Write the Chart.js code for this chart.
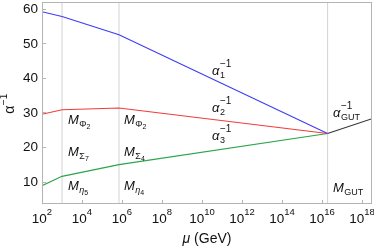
<!DOCTYPE html>
<html>
<head>
<meta charset="utf-8">
<script src="https://cdn.jsdelivr.net/npm/chart.js@4"></script>
<style>
    html, body { margin: 0; padding: 0; background: #fff; }
    #wrap { width: 374px; height: 249px; }
</style>
</head>
<body>
<div id="wrap"><canvas id="runningChart"></canvas></div>
<script>
    // log10(mu / GeV) at the thresholds used by the running
    const muLog = [2, 3, 5.85, 16.28];
    const alpha1Inv = [59.2, 57.8, 52.5, 23.9];
    const alpha2Inv = [29.5, 30.8, 31.3, 23.9];
    const alpha3Inv = [8.8, 11.5, 14.9, 23.9];

    // unified coupling above M_GUT
    const gutLog = [16.28, 18.5];
    const alphaGutInv = [23.9, 28.2];

    // vertical threshold lines
    const thresholdLog = [3, 5.85, 16.28];

    const xTicks = [2, 4, 6, 8, 10, 12, 14, 16, 18];
    const yTicks = [10, 20, 30, 40, 50, 60];

    const X_MIN = 2, X_MAX = 18.5, Y_MIN = 3.5, Y_MAX = 62;

    const FONT = '"Liberation Sans", Arial, sans-serif';
    const FRAME = '#b4b4b4';

    function pts(xs, ys) {
        return xs.map((x, i) => ({ x: x, y: ys[i] }));
    }

    // label text in data coords: base, subscript, sub-subscript, superscript
    const labels = [
        { x: 10.5, y: 40.8, base: 'α', sub: '1', sup: '−1' },
        { x: 10.5, y: 30.0, base: 'α', sub: '2', sup: '−1' },
        { x: 10.5, y: 21.9, base: 'α', sub: '3', sup: '−1' },
        { x: 16.55, y: 28.7, base: 'α', sub: 'GUT', sup: '−1' },
        { x: 3.3, y: 26.8, base: 'M', sub: 'Φ', sub2: '2' },
        { x: 3.3, y: 17.3, base: 'M', sub: 'Σ', sub2: '7' },
        { x: 3.3, y: 7.6, base: 'M', sub: 'η', sub2: '5', subItalic: true },
        { x: 6.1, y: 26.8, base: 'M', sub: 'Φ', sub2: '2' },
        { x: 6.1, y: 17.3, base: 'M', sub: 'Σ', sub2: '4' },
        { x: 6.1, y: 7.6, base: 'M', sub: 'η', sub2: '4', subItalic: true },
        { x: 16.55, y: 7.1, base: 'M', sub: 'GUT' }
    ];

    function drawSymbol(ctx, lb, px, py) {
        ctx.textAlign = 'left';
        ctx.textBaseline = 'alphabetic';
        ctx.fillStyle = '#111';
        ctx.font = 'italic 13px ' + FONT;
        ctx.fillText(lb.base, px, py);
        let x = px + ctx.measureText(lb.base).width + 0.5;
        let subEnd = x;
        if (lb.sub) {
            ctx.font = (lb.subItalic ? 'italic ' : '') + '9px ' + FONT;
            ctx.fillText(lb.sub, x, py + 3);
            subEnd = x + ctx.measureText(lb.sub).width;
            if (lb.sub2) {
                ctx.font = '7px ' + FONT;
                ctx.fillText(lb.sub2, subEnd, py + 5);
            }
        }
        if (lb.sup) {
            ctx.font = '10px ' + FONT;
            ctx.fillText(lb.sup, x, py - 8);
        }
    }

    const decorPlugin = {
        id: 'decor',
        afterDraw(chart) {
            const ctx = chart.ctx;
            const xs = chart.scales.x, ys = chart.scales.y;
            const a = chart.chartArea;
            ctx.save();

            // frame
            ctx.strokeStyle = FRAME;
            ctx.lineWidth = 1;
            ctx.strokeRect(a.left + 0.5, a.top + 0.5, a.right - a.left - 1, a.bottom - a.top - 1);

            // inward tick marks
            ctx.beginPath();
            xTicks.forEach(t => {
                const px = Math.round(xs.getPixelForValue(t)) + 0.5;
                ctx.moveTo(px, a.bottom);
                ctx.lineTo(px, a.bottom - 4);
            });
            yTicks.forEach(t => {
                const py = Math.round(ys.getPixelForValue(t)) + 0.5;
                ctx.moveTo(a.left, py);
                ctx.lineTo(a.left + 4, py);
            });
            ctx.stroke();

            // x tick labels 10^n
            ctx.fillStyle = '#111';
            ctx.textBaseline = 'alphabetic';
            ctx.textAlign = 'left';
            xTicks.forEach(t => {
                const px = xs.getPixelForValue(t);
                ctx.font = '13.5px ' + FONT;
                const w1 = ctx.measureText('10').width;
                ctx.font = '9.5px ' + FONT;
                const w2 = ctx.measureText(String(t)).width;
                const x0 = px - (w1 + w2) / 2;
                ctx.font = '13.5px ' + FONT;
                ctx.fillText('10', x0, a.bottom + 19);
                ctx.font = '9.5px ' + FONT;
                ctx.fillText(String(t), x0 + w1, a.bottom + 11);
            });

            // y tick labels
            ctx.textAlign = 'right';
            ctx.textBaseline = 'middle';
            ctx.font = '13.5px ' + FONT;
            yTicks.forEach(t => {
                ctx.fillText(String(t), a.left - 4, ys.getPixelForValue(t) + 0.5);
            });

            // x title
            ctx.textBaseline = 'alphabetic';
            ctx.font = 'italic 14px ' + FONT;
            const muW = ctx.measureText('μ').width;
            ctx.font = '14px ' + FONT;
            const restW = ctx.measureText(' (GeV)').width;
            const tx = (a.left + a.right) / 2 - (muW + restW) / 2;
            ctx.textAlign = 'left';
            ctx.font = 'italic 14px ' + FONT;
            ctx.fillText('μ', tx, 243);
            ctx.font = '14px ' + FONT;
            ctx.fillText(' (GeV)', tx + muW, 243);

            // y title
            ctx.save();
            ctx.translate(14, 104);
            ctx.rotate(-Math.PI / 2);
            ctx.font = '14px ' + FONT;
            const aw = ctx.measureText('α').width;
            ctx.font = '10px ' + FONT;
            const sw = ctx.measureText('−1').width;
            ctx.font = '14px ' + FONT;
            ctx.fillText('α', -(aw + sw) / 2, 0);
            ctx.font = '10px ' + FONT;
            ctx.fillText('−1', -(aw + sw) / 2 + aw + 0.5, -7);
            ctx.restore();

            // symbols in the plot
            labels.forEach(lb => {
                drawSymbol(ctx, lb, xs.getPixelForValue(lb.x), ys.getPixelForValue(lb.y));
            });

            ctx.restore();
        }
    };

    function lineSet(data, color) {
        return {
            data: data,
            borderColor: color,
            borderWidth: 1.1,
            pointRadius: 0,
            fill: false,
            tension: 0
        };
    }

    const datasets = [
        lineSet(pts(muLog, alpha1Inv), '#3c3cf5'),
        lineSet(pts(muLog, alpha2Inv), '#f03c3c'),
        lineSet(pts(muLog, alpha3Inv), '#2aa54a'),
        lineSet(pts(gutLog, alphaGutInv), '#333333')
    ];
    thresholdLog.forEach(t => {
        datasets.push({
            data: [{ x: t, y: Y_MIN }, { x: t, y: Y_MAX }],
            borderColor: '#d2d2d2',
            borderWidth: 1,
            pointRadius: 0
        });
    });

    new Chart(document.getElementById('runningChart'), {
        type: 'line',
        data: { datasets: datasets },
        options: {
            responsive: true,
            maintainAspectRatio: false,
            animation: false,
            layout: { padding: { left: 42, right: 2, top: 2, bottom: 45 } },
            plugins: {
                legend: { display: false },
                tooltip: { enabled: false }
            },
            scales: {
                x: { type: 'linear', min: X_MIN, max: X_MAX, display: false },
                y: { type: 'linear', min: Y_MIN, max: Y_MAX, display: false }
            }
        },
        plugins: [decorPlugin]
    });
</script>
</body>
</html>
